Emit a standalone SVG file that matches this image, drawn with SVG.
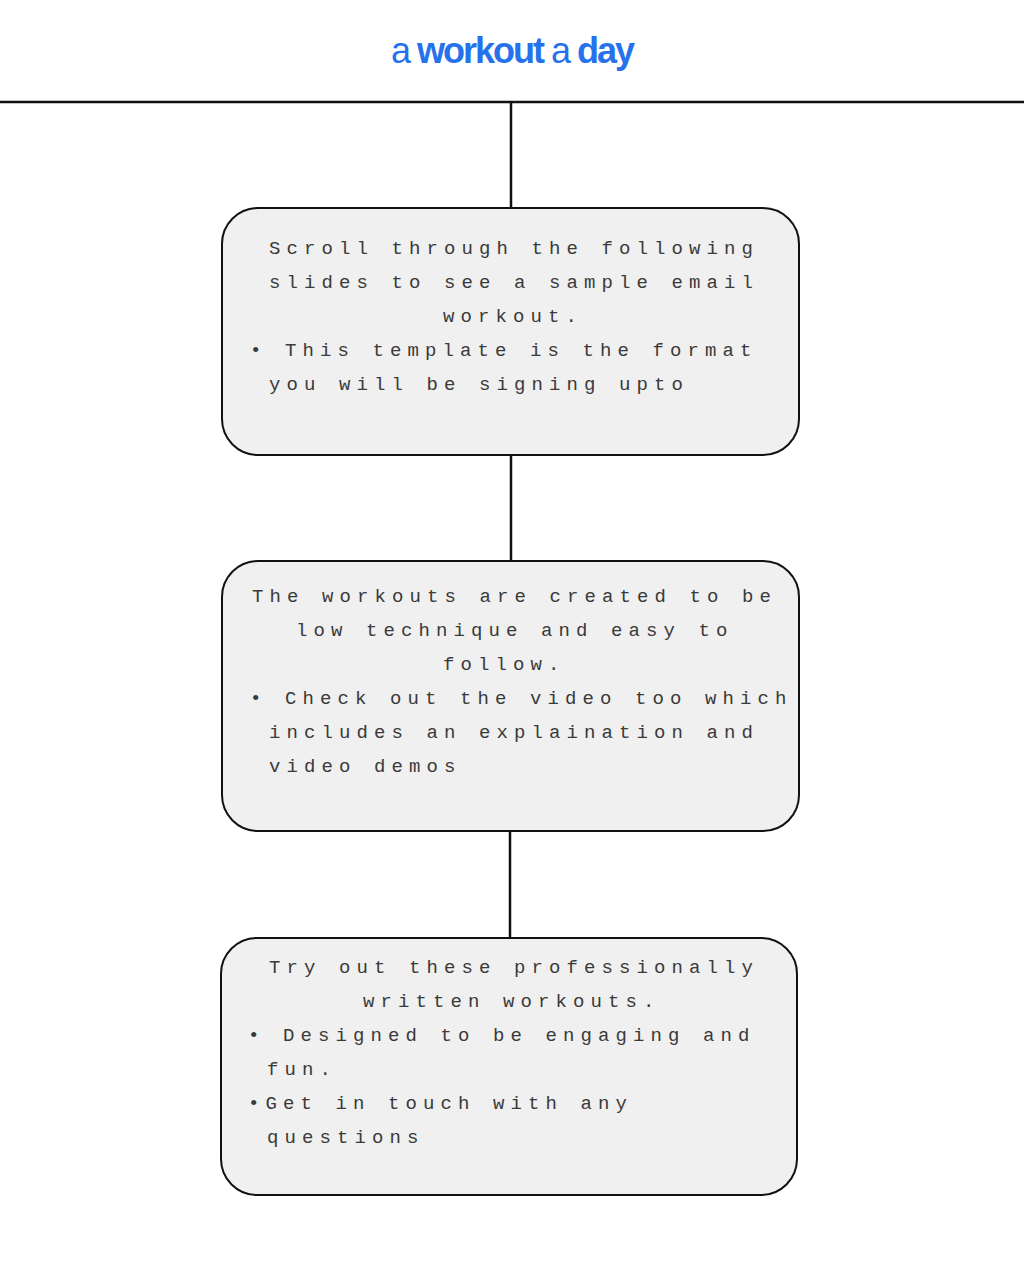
<svg xmlns="http://www.w3.org/2000/svg" width="1024" height="1280" viewBox="0 0 1024 1280">
<style>
.box{fill:#f0f0f0;stroke:#111;stroke-width:2}
.conn{stroke:#111;stroke-width:2.5;fill:none}
.t{font-family:"Liberation Mono","DejaVu Sans Mono",monospace;font-size:19px;letter-spacing:6.1px;fill:#3a3a3a}
.title{font-family:"Liberation Sans",Arial,sans-serif;font-size:36px;letter-spacing:-2px;fill:#2672ec}
</style>
<rect width="1024" height="1280" fill="#fff"/>
<g id="title">
<text class="title" x="391" y="63">a <tspan font-weight="bold">workout</tspan> a <tspan font-weight="bold">day</tspan></text>
</g>
<g id="connectors">
<line class="conn" x1="0" y1="102" x2="1024" y2="102"/>
<line class="conn" x1="511" y1="102" x2="511" y2="208"/>
<line class="conn" x1="511" y1="455" x2="511" y2="561"/>
<line class="conn" x1="510" y1="831" x2="510" y2="938"/>
</g>
<g id="node1">
<rect class="box" x="222" y="208" width="577" height="247" rx="36"/>
<text class="t" x="269" y="254">Scroll through the following</text>
<text class="t" x="269" y="288">slides to see a sample email</text>
<text class="t" x="443" y="322">workout.</text>
<text class="t" x="250" y="356">• This template is the format</text>
<text class="t" x="269" y="390">you will be signing upto</text>
</g>
<g id="node2">
<rect class="box" x="222" y="561" width="577" height="270" rx="36"/>
<text class="t" x="252" y="602">The workouts are created to be</text>
<text class="t" x="296" y="636">low technique and easy to</text>
<text class="t" x="443" y="670">follow.</text>
<text class="t" x="250" y="704">• Check out the video too which</text>
<text class="t" x="269" y="738">includes an explaination and</text>
<text class="t" x="269" y="772">video demos</text>
</g>
<g id="node3">
<rect class="box" x="221" y="938" width="576" height="257" rx="36"/>
<text class="t" x="269" y="973">Try out these professionally</text>
<text class="t" x="363" y="1007">written workouts.</text>
<text class="t" x="248" y="1041">• Designed to be engaging and</text>
<text class="t" x="267" y="1075">fun.</text>
<text class="t" x="248" y="1109">•Get in touch with any</text>
<text class="t" x="267" y="1143">questions</text>
</g>
</svg>
